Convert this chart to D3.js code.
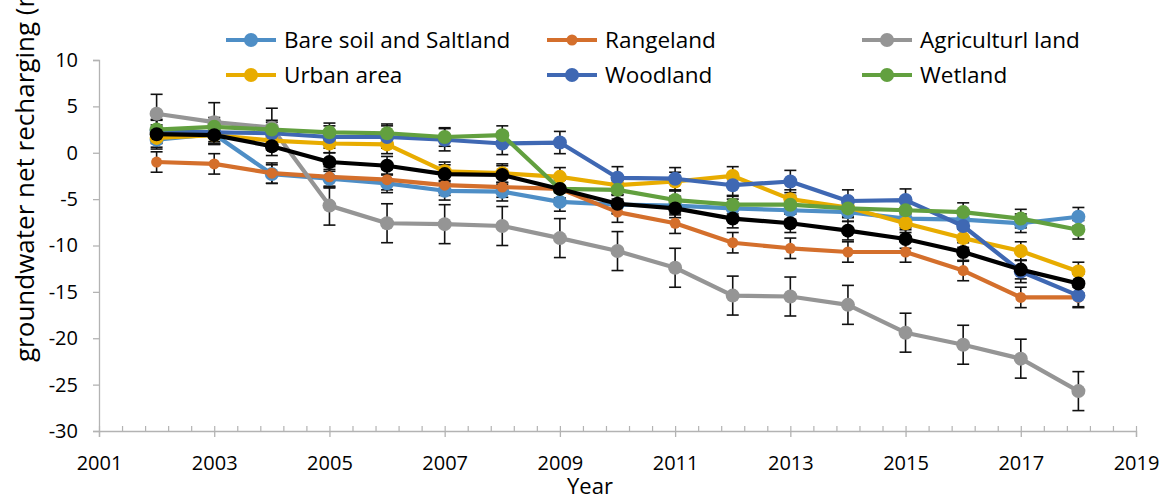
<!DOCTYPE html>
<html>
<head>
<meta charset="utf-8">
<script src="https://cdn.jsdelivr.net/npm/d3@7"></script>
<style>
  html, body { margin: 0; padding: 0; background: #fff; }
  svg { display: block; font-family: "Open Sans", Lato, sans-serif; }
</style>
</head>
<body>
<svg id="chart" width="1169" height="502"></svg>
<script>
// Years sampled
const years = [2002, 2003, 2004, 2005, 2006, 2007, 2008, 2009, 2010, 2011, 2012, 2013, 2014, 2015, 2016, 2017, 2018];

// Net recharge per land use
const bareSoil   = [1.4, 2.0, -2.3, -2.8, -3.3, -4.1, -4.2, -5.3, -5.6, -5.7, -6.0, -6.2, -6.4, -7.1, -7.2, -7.6, -6.9];
const rangeland  = [-1.0, -1.2, -2.2, -2.6, -2.9, -3.5, -3.7, -3.9, -6.4, -7.6, -9.7, -10.3, -10.7, -10.7, -12.7, -15.6, -15.6];
const agricult   = [4.2, 3.3, 2.7, -5.7, -7.6, -7.7, -7.9, -9.2, -10.6, -12.4, -15.4, -15.5, -16.4, -19.4, -20.7, -22.2, -25.7];
const urban      = [1.6, 1.9, 1.3, 1.0, 0.9, -2.0, -2.2, -2.6, -3.5, -3.1, -2.5, -5.0, -5.9, -7.6, -9.2, -10.6, -12.8];
const woodland   = [2.4, 2.2, 2.1, 1.7, 1.7, 1.4, 1.0, 1.1, -2.7, -2.8, -3.5, -3.1, -5.2, -5.1, -7.9, -12.8, -15.4];
const wetland    = [2.5, 2.8, 2.5, 2.2, 2.1, 1.7, 1.9, -3.9, -4.0, -5.1, -5.6, -5.6, -6.0, -6.2, -6.4, -7.1, -8.3];
const meanValues = [2.0, 1.9, 0.7, -1.0, -1.4, -2.3, -2.4, -3.9, -5.5, -6.0, -7.1, -7.6, -8.4, -9.3, -10.7, -12.6, -14.1];

// Error bar half-widths per series
const errBareSoil = 1.0, errRangeland = 1.1, errAgricult = 2.1, errUrban = 1.0,
      errWoodland = 1.2, errWetland = 1.0, errMean = 1.0;

// Axis ticks
const yTicks = [10, 5, 0, -5, -10, -15, -20, -25, -30];
const xTicks = [2001, 2003, 2005, 2007, 2009, 2011, 2013, 2015, 2017, 2019];

const series = [
  { name: "Bare soil and Saltland", values: bareSoil,  err: errBareSoil,  color: "#4e8ec6", r: 7,   legend: true },
  { name: "Rangeland",              values: rangeland, err: errRangeland, color: "#d46f2c", r: 5.5, legend: true },
  { name: "Agriculturl land",       values: agricult,  err: errAgricult,  color: "#959595", r: 7,   legend: true },
  { name: "Urban area",             values: urban,     err: errUrban,     color: "#e8ac00", r: 7,   legend: true },
  { name: "Woodland",               values: woodland,  err: errWoodland,  color: "#3f68b3", r: 7,   legend: true },
  { name: "Wetland",                values: wetland,   err: errWetland,   color: "#62a03f", r: 7,   legend: true },
  { name: "Mean",                   values: meanValues, err: errMean,     color: "#000000", r: 7,   legend: false }
];

const svg = d3.select("#chart");
const x = d3.scaleLinear().domain([2001, 2019]).range([99, 1136]);
const y = d3.scaleLinear().domain([-30, 10]).range([431, 60]);
const axisColor = "#b3b3b3";
const plain = d => String(d);

// Y axis
const gy = svg.append("g").attr("transform", `translate(${x(2001)},0)`)
  .call(d3.axisLeft(y).tickValues(yTicks).tickSize(6).tickPadding(15).tickFormat(plain));
gy.select(".domain").attr("stroke", axisColor).attr("stroke-width", 1.3);
gy.selectAll(".tick line").attr("stroke", axisColor).attr("stroke-width", 1.3);
gy.selectAll(".tick text").attr("font-size", 20).attr("fill", "#000").attr("font-family", "Open Sans");

// X axis: minor ticks upward, major ticks downward
const minorTicks = d3.range(0, 46).map(i => 2001 + i * 0.4);
const gxMinor = svg.append("g").attr("transform", `translate(0,${y(-30)})`)
  .call(d3.axisTop(x).tickValues(minorTicks).tickSize(5).tickFormat(""));
gxMinor.select(".domain").remove();
gxMinor.selectAll(".tick line").attr("stroke", axisColor).attr("stroke-width", 1.2);

const gx = svg.append("g").attr("transform", `translate(0,${y(-30)})`)
  .call(d3.axisBottom(x).tickValues(xTicks).tickSize(6).tickPadding(19).tickFormat(plain));
gx.select(".domain").attr("stroke", axisColor).attr("stroke-width", 1.3);
gx.selectAll(".tick line").attr("stroke", axisColor).attr("stroke-width", 1.3);
gx.selectAll(".tick text").attr("font-size", 20).attr("fill", "#000").attr("font-family", "Open Sans");

// Axis titles
svg.append("text")
  .attr("x", 590).attr("y", 494)
  .attr("text-anchor", "middle").attr("font-size", 22).attr("fill", "#000")
  .text("Year");
svg.append("text")
  .attr("transform", "translate(34,362) rotate(-90)")
  .attr("text-anchor", "start").attr("font-size", 26).attr("fill", "#000")
  .text("groundwater net recharging (mm)");

// Error bars
const capHalf = 6;
const errLayer = svg.append("g");
series.forEach(s => {
  years.forEach((yr, i) => {
    const cx = x(yr), v = s.values[i];
    const y1 = y(v + s.err), y2 = y(v - s.err);
    errLayer.append("line").attr("x1", cx).attr("x2", cx).attr("y1", y1).attr("y2", y2)
      .attr("stroke", "#111").attr("stroke-width", 1.6);
    [y1, y2].forEach(yy => errLayer.append("line")
      .attr("x1", cx - capHalf).attr("x2", cx + capHalf).attr("y1", yy).attr("y2", yy)
      .attr("stroke", "#111").attr("stroke-width", 1.6));
  });
});

// Lines and markers
const line = d3.line().x((d, i) => x(years[i])).y(d => y(d));
series.forEach(s => {
  const g = svg.append("g");
  g.append("path").datum(s.values).attr("d", line)
    .attr("fill", "none").attr("stroke", s.color).attr("stroke-width", 4.2)
    .attr("stroke-linejoin", "round");
  g.selectAll("circle").data(s.values).join("circle")
    .attr("cx", (d, i) => x(years[i])).attr("cy", d => y(d))
    .attr("r", s.r).attr("fill", s.color);
});

// Legend
const legendItems = series.filter(s => s.legend);
const colX = [226, 547, 862];
const rowY = [40, 75];
legendItems.forEach((s, i) => {
  const cx = colX[i % 3], cy = rowY[Math.floor(i / 3)];
  const g = svg.append("g").attr("transform", `translate(${cx},${cy})`);
  g.append("line").attr("x1", 0).attr("x2", 50).attr("y1", 0).attr("y2", 0)
    .attr("stroke", s.color).attr("stroke-width", 4.2);
  g.append("circle").attr("cx", 25).attr("cy", 0).attr("r", s.r).attr("fill", s.color);
  g.append("text").attr("x", 58).attr("y", 0).attr("dy", "0.35em")
    .attr("font-size", 22.5).attr("fill", "#000").text(s.name);
});
</script>
</body>
</html>
